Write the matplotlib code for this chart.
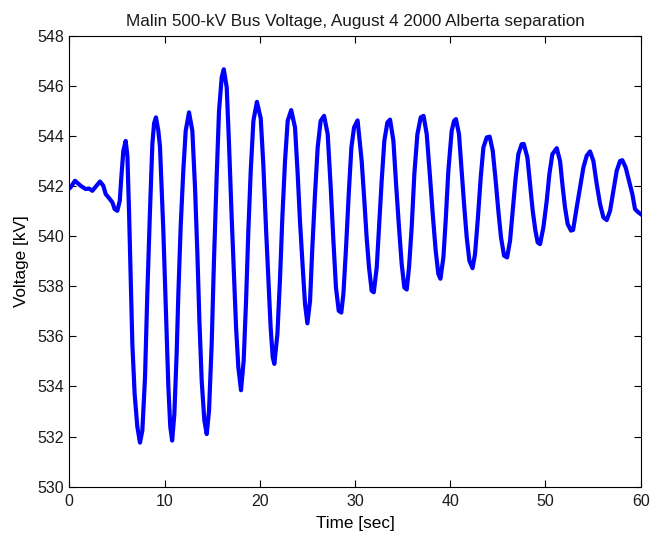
import matplotlib
matplotlib.use("Agg")
import matplotlib.pyplot as plt

# valores (tiempo en s, tension en kV)
tiempo = [
    0.0, 0.14, 0.6, 1.19, 1.72, 2.07, 2.42, 2.77, 3.22, 3.57, 3.82, 4.17, 4.52, 4.76,
    5.04, 5.3, 5.46, 5.67, 5.92,
    6.1, 6.27, 6.44, 6.62, 6.86, 7.14, 7.42,
    7.67, 7.95, 8.19, 8.47, 8.72, 8.9, 9.1,
    9.35, 9.52, 9.87, 10.15, 10.4, 10.6, 10.8,
    11.03, 11.27, 11.45, 11.69, 11.97, 12.22, 12.57,
    12.92, 13.2, 13.45, 13.66, 13.9, 14.18, 14.43,
    14.67, 14.95, 15.19, 15.47, 15.72, 16.0, 16.22,
    16.53, 16.77, 17.05, 17.3, 17.51, 17.75, 18.03,
    18.31, 18.56, 18.8, 19.05, 19.33, 19.7,
    20.1, 20.37, 20.65, 20.9, 21.14, 21.36, 21.53,
    21.85, 22.13, 22.37, 22.65, 22.93, 23.3,
    23.7, 23.98, 24.22, 24.51, 24.75, 25.0,
    25.28, 25.52, 25.8, 26.08, 26.39, 26.75,
    27.13, 27.45, 27.73, 28.0, 28.29, 28.56,
    28.78, 29.06, 29.34, 29.62, 29.9, 30.27,
    30.7, 30.98, 31.22, 31.47, 31.75, 31.97,
    32.28, 32.52, 32.8, 33.08, 33.4, 33.68,
    34.03, 34.31, 34.62, 34.9, 35.18, 35.43,
    35.67, 35.95, 36.23, 36.55, 36.9, 37.2,
    37.53, 37.88, 38.16, 38.47, 38.75, 38.97,
    39.28, 39.52, 39.8, 40.15, 40.4, 40.6,
    40.92, 41.2, 41.45, 41.73, 42.01, 42.34,
    42.6, 42.88, 43.2, 43.48, 43.83, 44.14,
    44.46, 44.77, 45.05, 45.33, 45.65, 45.97,
    46.28, 46.56, 46.87, 47.15, 47.5, 47.72,
    48.1, 48.38, 48.66, 48.94, 49.18, 49.43,
    49.78, 50.13, 50.41, 50.72, 51.18,
    51.53, 51.81, 52.05, 52.33, 52.68, 52.9,
    53.28, 53.63, 53.98, 54.33, 54.68,
    55.03, 55.38, 55.73, 56.08, 56.43,
    56.78, 57.13, 57.48, 57.83, 58.07,
    58.42, 58.77, 59.12, 59.4, 59.75, 60.0,
]
voltaje = [
    541.9, 541.95, 542.21, 542.01, 541.88, 541.9, 541.81, 541.97, 542.18, 542.01, 541.68, 541.52, 541.35, 541.08,
    541.01, 541.41, 542.34, 543.4, 543.8,
    543.2, 541.0, 538.4, 535.7, 533.7, 532.4, 531.76,
    532.24, 534.37, 537.69, 541.0, 543.67, 544.5, 544.74,
    544.2, 543.57, 540.25, 536.92, 534.0, 532.4, 531.84,
    532.9, 535.3, 537.69, 540.35, 542.61, 544.2, 544.94,
    544.2, 541.94, 539.28, 536.63, 534.23, 532.64, 532.1,
    533.03, 535.7, 539.02, 542.34, 545.0, 546.33, 546.66,
    545.93, 543.67, 540.75, 538.35, 536.36, 534.76, 533.85,
    535.03, 537.42, 540.22, 542.61, 544.6, 545.36,
    544.7, 542.87, 540.35, 538.35, 536.36, 535.16, 534.9,
    536.09, 538.35, 540.75, 543.0, 544.6, 545.03,
    544.34, 542.48, 540.61, 538.75, 537.29, 536.52,
    537.42, 539.55, 541.68, 543.54, 544.6, 544.8,
    544.07, 541.94, 539.82, 537.95, 537.02, 536.95,
    537.69, 539.55, 541.68, 543.54, 544.34, 544.62,
    543.0, 541.41, 539.95, 538.75, 537.82, 537.76,
    538.75, 540.35, 542.21, 543.81, 544.54, 544.65,
    543.81, 542.08, 540.35, 538.89, 537.95, 537.87,
    538.75, 540.35, 542.48, 544.07, 544.74, 544.8,
    544.07, 542.34, 540.88, 539.42, 538.49, 538.3,
    539.15, 540.61, 542.61, 544.2, 544.6, 544.67,
    544.07, 542.61, 541.28, 539.95, 539.02, 538.72,
    539.28, 540.61, 542.34, 543.54, 543.94, 543.97,
    543.41, 542.21, 541.01, 539.95, 539.22, 539.15,
    539.82, 541.01, 542.34, 543.27, 543.67, 543.68,
    543.14, 542.08, 541.01, 540.22, 539.75, 539.68,
    540.35, 541.41, 542.48, 543.27, 543.51,
    543.0, 541.94, 541.15, 540.48, 540.22, 540.25,
    541.15, 541.94, 542.74, 543.21, 543.38,
    543.0, 542.08, 541.28, 540.75, 540.64,
    541.01, 541.81, 542.61, 543.0, 543.03,
    542.74, 542.21, 541.68, 541.08, 540.95, 540.88,
]

plt.rcParams["font.family"] = ["Liberation Sans", "DejaVu Sans"]
plt.rcParams["text.color"] = "#1a1a1a"

fig = plt.figure(figsize=(6.52, 5.4), dpi=100)
ax = fig.add_axes([0.1063, 0.0987, 0.8764, 0.8352])

ax.plot(tiempo, voltaje, color="#0000ff", linewidth=3.0, solid_joinstyle="round")

ax.set_xlim(0, 60)
ax.set_ylim(530, 548)
ax.set_xticks(range(0, 61, 10))
ax.set_yticks(range(530, 549, 2))
ax.tick_params(direction="in", length=5, width=0.8, top=True, right=True,
               labelsize=11.5, pad=5, labelcolor="#1a1a1a")
ax.tick_params(axis="y", pad=4)
for sp in ax.spines.values():
    sp.set_linewidth(0.8)

ax.set_title("Malin 500-kV Bus Voltage, August 4 2000 Alberta separation",
             fontsize=12.3, pad=7)
ax.set_xlabel("Time [sec]", fontsize=12.3, labelpad=5)
ax.set_ylabel("Voltage [kV]", fontsize=12.3, labelpad=6)

fig.savefig("out.png", dpi=100)
